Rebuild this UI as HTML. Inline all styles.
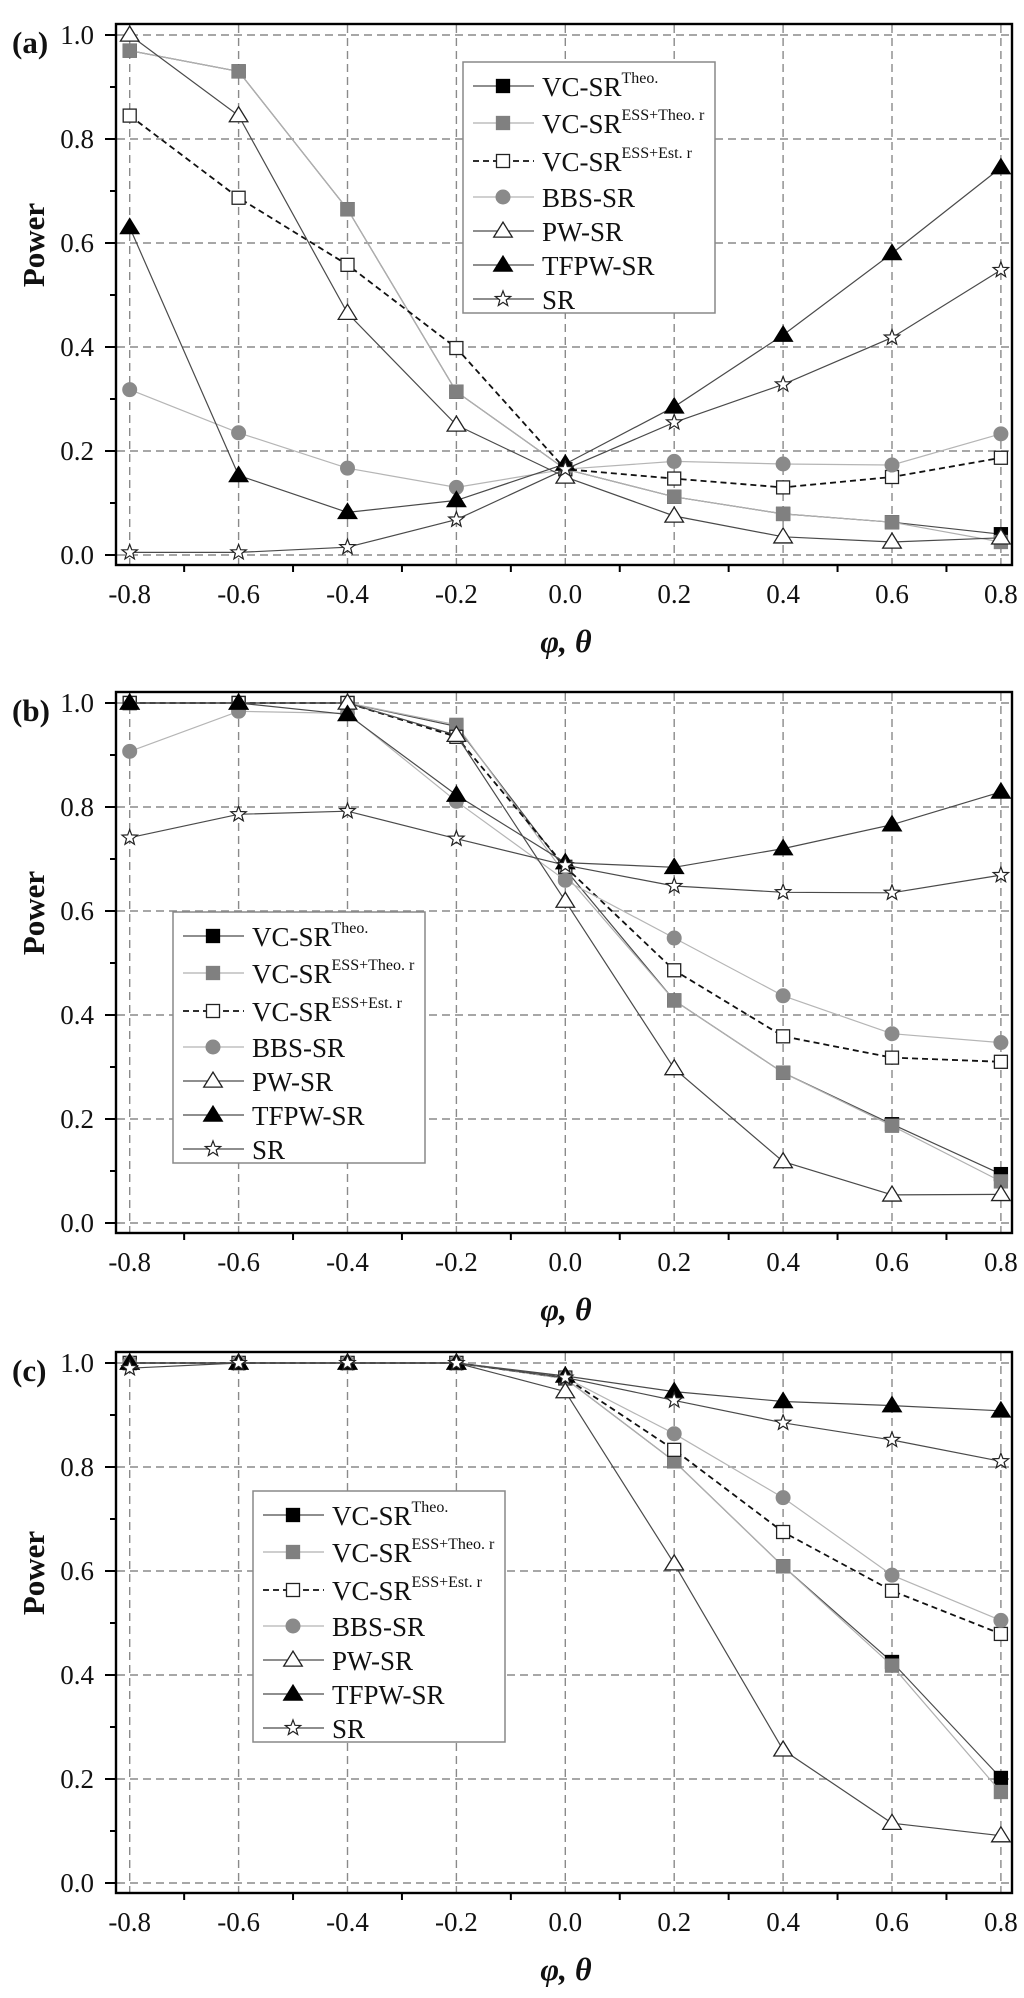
<!DOCTYPE html>
<html><head><meta charset="utf-8"><style>
html,body{margin:0;padding:0;background:#fff;}
svg{display:block;font-family:"Liberation Serif","Times New Roman",serif;}
svg text{font-family:"Liberation Serif","Times New Roman",serif;}
</style></head><body>
<svg id="fig" width="1024" height="1998" viewBox="0 0 1024 1998" font-family="Liberation Serif, serif" xmlns="http://www.w3.org/2000/svg"></svg>
<script>
const xCats = [-0.8,-0.6,-0.4,-0.2,0.0,0.2,0.4,0.6,0.8];
const xTickLabels = ["-0.8","-0.6","-0.4","-0.2","0.0","0.2","0.4","0.6","0.8"];
const yTickValues = [0.0,0.2,0.4,0.6,0.8,1.0];
const yTickLabels = ["0.0","0.2","0.4","0.6","0.8","1.0"];
const seriesNames = ["VC-SR Theo.","VC-SR ESS+Theo. r","VC-SR ESS+Est. r","BBS-SR","PW-SR","TFPW-SR","SR"];
// Panel (a)
const aTheo    = [0.97,0.93,0.665,0.314,0.165,0.112,0.079,0.063,0.04];
const aEssTheo = [0.97,0.93,0.665,0.314,0.165,0.112,0.079,0.063,0.025];
const aEssEst  = [0.845,0.687,0.558,0.398,0.165,0.147,0.13,0.15,0.187];
const aBBS     = [0.318,0.235,0.167,0.13,0.165,0.18,0.175,0.173,0.233];
const aPW      = [1.0,0.845,0.465,0.25,0.15,0.075,0.035,0.025,0.033];
const aTFPW    = [0.63,0.153,0.082,0.105,0.175,0.285,0.423,0.58,0.745];
const aSR      = [0.005,0.005,0.015,0.068,0.165,0.255,0.328,0.418,0.548];
// Panel (b)
const bTheo    = [1.0,1.0,1.0,0.955,0.68,0.428,0.289,0.19,0.094];
const bEssTheo = [1.0,1.0,1.0,0.958,0.67,0.428,0.289,0.187,0.08];
const bEssEst  = [1.0,1.0,1.0,0.935,0.685,0.486,0.359,0.318,0.31];
const bBBS     = [0.907,0.984,0.98,0.811,0.659,0.548,0.437,0.364,0.347];
const bPW      = [1.0,1.0,1.0,0.938,0.619,0.297,0.118,0.054,0.055];
const bTFPW    = [1.0,1.0,0.978,0.823,0.693,0.684,0.72,0.766,0.829];
const bSR      = [0.741,0.786,0.792,0.739,0.688,0.648,0.636,0.635,0.669];
// Panel (c)
const cTheo    = [1.0,1.0,1.0,1.0,0.97,0.811,0.609,0.425,0.202];
const cEssTheo = [1.0,1.0,1.0,1.0,0.97,0.811,0.609,0.418,0.175];
const cEssEst  = [1.0,1.0,1.0,1.0,0.972,0.833,0.675,0.562,0.479];
const cBBS     = [1.0,1.0,1.0,1.0,0.972,0.864,0.741,0.592,0.505];
const cPW      = [1.0,1.0,1.0,1.0,0.945,0.614,0.256,0.115,0.091];
const cTFPW    = [1.0,1.0,1.0,1.0,0.975,0.945,0.926,0.918,0.908];
const cSR      = [0.99,1.0,1.0,1.0,0.972,0.928,0.885,0.852,0.811];

const NS="http://www.w3.org/2000/svg";
const svg=document.getElementById('fig');
function mk(tag,attrs,parent){const e=document.createElementNS(NS,tag);for(const k in attrs)e.setAttribute(k,attrs[k]);(parent||svg).appendChild(e);return e;}

const styles=[
 {line:"#4a4a4a",dash:null,w:1.2,marker:"square",fill:"#000",stroke:"#000"},
 {line:"#b0b0b0",dash:null,w:1.2,marker:"square",fill:"#808080",stroke:"#808080"},
 {line:"#111",dash:"6,4",w:1.8,marker:"square",fill:"#fff",stroke:"#222"},
 {line:"#b5b5b5",dash:null,w:1.2,marker:"circle",fill:"#8a8a8a",stroke:"#8a8a8a"},
 {line:"#4a4a4a",dash:null,w:1.2,marker:"tri",fill:"#fff",stroke:"#222"},
 {line:"#4a4a4a",dash:null,w:1.2,marker:"tri",fill:"#000",stroke:"#000"},
 {line:"#4a4a4a",dash:null,w:1.2,marker:"star",fill:"#fff",stroke:"#222"}
];
const slugs=["vc-sr-theo","vc-sr-ess-theo","vc-sr-ess-est","bbs-sr","pw-sr","tfpw-sr","sr"];

function drawMarker(g,type,cx,cy,st,s){
  let e;
  if(type==="square"){e=mk('rect',{x:cx-s/2,y:cy-s/2,width:s,height:s,fill:st.fill,stroke:st.stroke,'stroke-width':1.3},g);}
  else if(type==="circle"){e=mk('circle',{cx:cx,cy:cy,r:s/2+0.5,fill:st.fill,stroke:st.stroke},g);}
  else if(type==="tri"){const h=s*1.05;e=mk('polygon',{points:`${cx},${cy-h*0.65} ${cx-h*0.68},${cy+h*0.45} ${cx+h*0.68},${cy+h*0.45}`,fill:st.fill,stroke:st.stroke,'stroke-width':1.3},g);}
  else {let p=[];for(let i=0;i<10;i++){const r=i%2?s*0.26:s*0.62;const a=-Math.PI/2+i*Math.PI/5;p.push((cx+r*Math.cos(a)).toFixed(1)+","+(cy+r*Math.sin(a)).toFixed(1));}
    e=mk('polygon',{points:p.join(" "),fill:st.fill,stroke:st.stroke,'stroke-width':1.2},g);}
  return e;
}

function panel(letter,top,data,leg){
  const L=116,R=1012,T=top,Y1=top+11,Y0=top+531,B=top+541;
  const xS=v=>129.7+(v+0.8)/0.2*108.9;
  const yS=v=>Y0-(v)*(Y0-Y1);
  const g=mk('g',{});
  
  
  const grid=mk('g',{stroke:"#8a8a8a",'stroke-width':1.4,'stroke-dasharray':"8,5"},g);
  
  
  xCats.forEach(v=>mk('line',{x1:xS(v),x2:xS(v),y1:T+1,y2:B-1},grid));
  yTickValues.forEach(v=>mk('line',{x1:L+1,x2:R-1,y1:yS(v),y2:yS(v)},grid));
  yTickValues.forEach((v,i)=>{
    mk('line',{x1:L-11,x2:L,y1:yS(v),y2:yS(v),stroke:"#000",'stroke-width':2},g);
    const t=mk('text',{x:94,y:yS(v)+9,'text-anchor':'end','font-size':27,fill:"#111"},g);
    t.textContent=yTickLabels[i];
    
    
    if(i<yTickValues.length-1){const m=(v+yTickValues[i+1])/2;mk('line',{x1:L-6,x2:L,y1:yS(m),y2:yS(m),stroke:"#000",'stroke-width':2},g);}
  });
  xCats.forEach((v,i)=>{
    const t=mk('text',{x:xS(v),y:B+38,'text-anchor':'middle','font-size':27,fill:"#111"},g);
    t.textContent=xTickLabels[i];
    
    
    if(i<xCats.length-1){const m=(v+xCats[i+1])/2;mk('line',{x1:xS(m),x2:xS(m),y1:B,y2:B+7,stroke:"#000",'stroke-width':2},g);}
  });
  data.forEach((arr,si)=>{
    const st=styles[si];
    const sg=mk('g',{},g);
    
    
    const pts=arr.map((v,i)=>xS(xCats[i]).toFixed(1)+","+yS(v).toFixed(1)).join(" ");
    const pl=mk('polyline',{points:pts,fill:"none",stroke:st.line,'stroke-width':st.w},sg);
    if(st.dash)pl.setAttribute('stroke-dasharray',st.dash);
    arr.forEach((v,i)=>{
      const m=drawMarker(sg,st.marker,xS(xCats[i]),yS(v),st,13);
      
      
    });
  });
  const fr=mk('rect',{x:L,y:T,width:R-L,height:B-T,fill:"none",stroke:"#000",'stroke-width':2.4},g);
  
  
  const lg=mk('g',{},g);
  
  
  mk('rect',{x:leg.x,y:leg.y,width:252,height:251,fill:"#fff",stroke:"#888",'stroke-width':1.5},lg);
  const rows=[24,61,99,135,169,203,237];
  seriesNames.forEach((nm,si)=>{
    const st=styles[si];const cy=leg.y+rows[si];const mx=leg.x+40;
    const eg=mk('g',{},lg);
    
    
    const ln=mk('line',{x1:leg.x+10,x2:leg.x+71,y1:cy,y2:cy,stroke:st.line,'stroke-width':st.w},eg);
    if(st.dash)ln.setAttribute('stroke-dasharray',st.dash);
    drawMarker(eg,st.marker,mx,cy,st,13);
    const t=mk('text',{x:leg.x+79,y:cy+10,'font-size':27,fill:"#111"},eg);
    if(si<3){
      t.appendChild(document.createTextNode("VC-SR"));
      const sup=mk('tspan',{dy:-13,'font-size':16},t);
      sup.textContent=["Theo.","ESS+Theo. r","ESS+Est. r"][si];
    } else t.textContent=nm;
  });
  const pl=mk('text',{x:12,y:T+29,'font-size':31,'font-weight':'bold',fill:"#111"},g);
  pl.textContent="("+letter+")";
  
  
  const cyP=(Y0+Y1)/2-50;
  const yt=mk('text',{x:0,y:0,'font-size':31,'font-weight':'bold','text-anchor':'middle',fill:"#111",transform:`translate(44,${cyP}) rotate(-90)`},g);
  yt.textContent="Power";
  
  
  const xt=mk('text',{x:566,y:B+87,'font-size':32,'font-weight':'bold','font-style':'italic','text-anchor':'middle',fill:"#111"},g);
  xt.textContent="φ, θ";
  
  
}
panel('a',24,[aTheo,aEssTheo,aEssEst,aBBS,aPW,aTFPW,aSR],{x:463,y:62});
panel('b',692,[bTheo,bEssTheo,bEssEst,bBBS,bPW,bTFPW,bSR],{x:173,y:912});
panel('c',1352,[cTheo,cEssTheo,cEssEst,cBBS,cPW,cTFPW,cSR],{x:253,y:1491});
</script>
</body></html>
